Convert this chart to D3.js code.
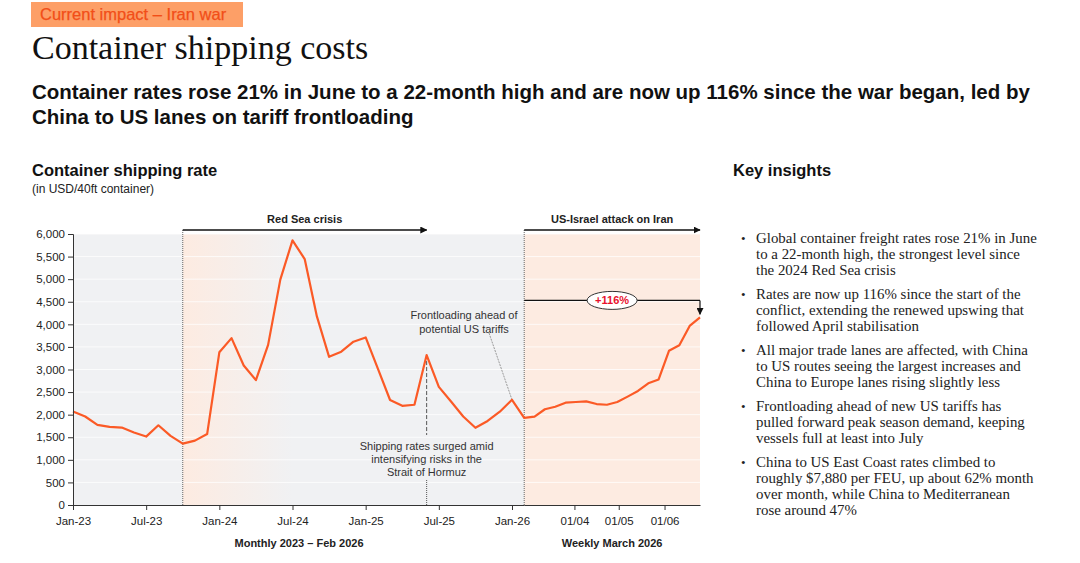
<!DOCTYPE html>
<html>
<head>
<meta charset="utf-8">
<script src="https://cdnjs.cloudflare.com/ajax/libs/d3/7.8.5/d3.min.js"></script>
<style>
  body { margin: 0; background: #fff; }
  svg { display: block; }
  .sans { font-family: "Liberation Sans", Arial, sans-serif; }
  .serif { font-family: "Liberation Serif", Georgia, serif; }
</style>
</head>
<body>
<div id="chart"></div>
<script>
// monthly series, Jan 2023 - Feb 2026
const monthLabels = [
  "Jan-23","Feb-23","Mar-23","Apr-23","May-23","Jun-23","Jul-23","Aug-23","Sep-23","Oct-23","Nov-23","Dec-23",
  "Jan-24","Feb-24","Mar-24","Apr-24","May-24","Jun-24","Jul-24","Aug-24","Sep-24","Oct-24","Nov-24","Dec-24",
  "Jan-25","Feb-25","Mar-25","Apr-25","May-25","Jun-25","Jul-25","Aug-25","Sep-25","Oct-25","Nov-25","Dec-25",
  "Jan-26","Feb-26"
];
const monthValues = [
  2070, 1960, 1775, 1730, 1715, 1605, 1515, 1765, 1530, 1360, 1425, 1570,
  3380, 3695, 3090, 2765, 3545, 4990, 5860, 5445, 4175, 3280, 3395, 3615,
  3710, 3020, 2325, 2195, 2220, 3320, 2615, 2290, 1960, 1710, 1860, 2065,
  2330, 1930
];

// weekly series, March - June 2026 (anchored on the Feb-26 monthly point)
const weekAnchor = "2026-02-26";
const weekDates = [
  "2026-03-05","2026-03-12","2026-03-19","2026-03-26","2026-04-02","2026-04-09",
  "2026-04-16","2026-04-23","2026-04-30","2026-05-07","2026-05-14","2026-05-21",
  "2026-05-28","2026-06-04","2026-06-11","2026-06-18","2026-06-25"
];
const weekValues = [
  1955, 2120, 2175, 2265, 2280, 2295,
  2235, 2220, 2280, 2400, 2525, 2695,
  2780, 3415, 3535, 3965, 4155
];

const yTicks = [0, 500, 1000, 1500, 2000, 2500, 3000, 3500, 4000, 4500, 5000, 5500, 6000];
const monthTicks = ["Jan-23","Jul-23","Jan-24","Jul-24","Jan-25","Jul-25","Jan-26"];
const weekTicks = ["2026-04-01","2026-05-01","2026-06-01"];
const weekTickLabels = ["01/04","01/05","01/06"];

const insights = [
  ["Global container freight rates rose 21% in June", "to a 22-month high, the strongest level since", "the 2024 Red Sea crisis"],
  ["Rates are now up 116% since the start of the", "conflict, extending the renewed upswing that", "followed April stabilisation"],
  ["All major trade lanes are affected, with China", "to US routes seeing the largest increases and", "China to Europe lanes rising slightly less"],
  ["Frontloading ahead of new US tariffs has", "pulled forward peak season demand, keeping", "vessels full at least into July"],
  ["China to US East Coast rates climbed to", "roughly $7,880 per FEU, up about 62% month", "over month, while China to Mediterranean", "rose around 47%"]
];

const parseDate = d3.timeParse("%Y-%m-%d");

const svg = d3.select("#chart").append("svg")
  .attr("width", 1080)
  .attr("height", 563);

const defs = svg.append("defs");
const grad = defs.append("linearGradient").attr("id", "redSeaFade");
grad.append("stop").attr("offset", "0%").attr("stop-color", "#fdebe1");
grad.append("stop").attr("offset", "100%").attr("stop-color", "#f0f1f3");

defs.append("marker")
  .attr("id", "arrow")
  .attr("viewBox", "0 0 10 10")
  .attr("refX", 9).attr("refY", 5)
  .attr("markerWidth", 7).attr("markerHeight", 7)
  .attr("markerUnits", "userSpaceOnUse")
  .attr("orient", "auto")
  .append("path")
  .attr("d", "M0,0 L10,5 L0,10 Z")
  .attr("fill", "#111");

// ---- header ----
svg.append("rect")
  .attr("x", 31).attr("y", 2).attr("width", 212).attr("height", 25)
  .attr("fill", "#fd9f67");
svg.append("text").attr("class", "sans")
  .attr("x", 40).attr("y", 20)
  .attr("font-size", 16.5).attr("fill", "#f24e18")
  .attr("stroke", "#f24e18").attr("stroke-width", 0.25)
  .text("Current impact \u2013 Iran war");

svg.append("text").attr("class", "serif")
  .attr("x", 32).attr("y", 59)
  .attr("font-size", 34).attr("fill", "#111")
  .text("Container shipping costs");

const sub = ["Container rates rose 21% in June to a 22-month high and are now up 116% since the war began, led by",
             "China to US lanes on tariff frontloading"];
svg.selectAll(".subtitle").data(sub).enter().append("text")
  .attr("class", "sans subtitle")
  .attr("x", 32).attr("y", (d, i) => 99 + i * 24.5)
  .attr("font-size", 20.5).attr("font-weight", "bold").attr("fill", "#111")
  .text(d => d);

svg.append("text").attr("class", "sans")
  .attr("x", 32).attr("y", 176)
  .attr("font-size", 16.5).attr("font-weight", "bold").attr("fill", "#111")
  .text("Container shipping rate");
svg.append("text").attr("class", "sans")
  .attr("x", 32).attr("y", 193)
  .attr("font-size", 12).attr("fill", "#222")
  .text("(in USD/40ft container)");

// ---- key insights ----
svg.append("text").attr("class", "sans")
  .attr("x", 733).attr("y", 176)
  .attr("font-size", 16.5).attr("font-weight", "bold").attr("fill", "#111")
  .text("Key insights");

let lineY = 243;
insights.forEach(lines => {
  svg.append("text").attr("class", "serif")
    .attr("x", 741).attr("y", lineY)
    .attr("font-size", 13).attr("fill", "#222")
    .text("\u2022");
  lines.forEach((l, j) => {
    svg.append("text").attr("class", "serif")
      .attr("x", 756).attr("y", lineY + j * 16)
      .attr("font-size", 14.9).attr("fill", "#222")
      .text(l);
  });
  lineY += lines.length * 16 + 8;
});

// ---- chart ----
const plotLeft = 73, plotTop = 234, width = 627, height = 271;
const g = svg.append("g").attr("transform", `translate(${plotLeft},${plotTop})`);

const split = 451.2; // where the monthly part hands over to the weekly part
const xMonth = d3.scalePoint().domain(monthLabels).range([0, split]);
const xWeek = d3.scaleTime()
  .domain([parseDate(weekAnchor), parseDate(weekDates[weekDates.length - 1])])
  .range([split, width]);
const y = d3.scaleLinear().domain([0, 6000]).range([height, 0]);

// backgrounds
g.append("rect").attr("width", width).attr("height", height).attr("fill", "#f0f1f3");
g.append("rect")
  .attr("x", xMonth("Oct-23")).attr("width", xMonth("Jul-24") - xMonth("Oct-23"))
  .attr("height", height).attr("fill", "url(#redSeaFade)");
g.append("rect")
  .attr("x", split).attr("width", width - split)
  .attr("height", height).attr("fill", "#fdebe1");

// gridlines
g.selectAll(".grid").data(yTicks.filter(d => d > 0)).enter().append("line")
  .attr("x1", 0).attr("x2", width)
  .attr("y1", d => y(d)).attr("y2", d => y(d))
  .attr("stroke", "#fff").attr("stroke-opacity", 0.75).attr("stroke-width", 1);

// event markers
const arrowY = -4;
[xMonth("Oct-23"), split].forEach(x => {
  g.append("line")
    .attr("x1", x).attr("x2", x).attr("y1", arrowY).attr("y2", height)
    .attr("stroke", "#666").attr("stroke-width", 1).attr("stroke-dasharray", "1,1");
});
g.append("line")
  .attr("x1", xMonth("Oct-23")).attr("x2", xMonth("Jun-25"))
  .attr("y1", arrowY).attr("y2", arrowY)
  .attr("stroke", "#111").attr("stroke-width", 1.4).attr("marker-end", "url(#arrow)");
g.append("line")
  .attr("x1", split).attr("x2", width)
  .attr("y1", arrowY).attr("y2", arrowY)
  .attr("stroke", "#111").attr("stroke-width", 1.4).attr("marker-end", "url(#arrow)");
g.append("text").attr("class", "sans")
  .attr("x", (xMonth("Oct-23") + xMonth("Jun-25")) / 2).attr("y", -11)
  .attr("text-anchor", "middle").attr("font-size", 11).attr("font-weight", "bold").attr("fill", "#222")
  .text("Red Sea crisis");
g.append("text").attr("class", "sans")
  .attr("x", (split + width) / 2).attr("y", -11)
  .attr("text-anchor", "middle").attr("font-size", 11).attr("font-weight", "bold").attr("fill", "#222")
  .text("US-Israel attack on Iran");

// Hormuz annotation
const jun25 = monthValues[monthLabels.indexOf("Jun-25")];
const hx = xMonth("Jun-25");
g.append("line")
  .attr("x1", hx).attr("x2", hx).attr("y1", y(jun25)).attr("y2", 201)
  .attr("stroke", "#555").attr("stroke-width", 1).attr("stroke-dasharray", "4,2");
g.append("line")
  .attr("x1", hx).attr("x2", hx).attr("y1", 246).attr("y2", height)
  .attr("stroke", "#555").attr("stroke-width", 1).attr("stroke-dasharray", "1,1");
["Shipping rates surged amid", "intensifying risks in the", "Strait of Hormuz"].forEach((t, i) => {
  g.append("text").attr("class", "sans")
    .attr("x", hx).attr("y", 215.5 + i * 13.3)
    .attr("text-anchor", "middle").attr("font-size", 11).attr("fill", "#333")
    .text(t);
});

// Frontloading annotation
const jan26 = monthValues[monthLabels.indexOf("Jan-26")];
g.append("line")
  .attr("x1", 416).attr("y1", 99).attr("x2", xMonth("Jan-26")).attr("y2", y(jan26))
  .attr("stroke", "#999").attr("stroke-width", 1).attr("stroke-dasharray", "2,1");
["Frontloading ahead of", "potential US tariffs"].forEach((t, i) => {
  g.append("text").attr("class", "sans")
    .attr("x", 391).attr("y", 84.5 + i * 14)
    .attr("text-anchor", "middle").attr("font-size", 11).attr("fill", "#333")
    .text(t);
});

// series line
const points = monthLabels.map((m, i) => ({ x: xMonth(m), v: monthValues[i] }))
  .concat(weekDates.map((d, i) => ({ x: xWeek(parseDate(d)), v: weekValues[i] })));

g.append("path")
  .datum(points)
  .attr("fill", "none")
  .attr("stroke", "#fb5a26")
  .attr("stroke-width", 2.2)
  .attr("stroke-linejoin", "round")
  .attr("d", d3.line().x(d => d.x).y(d => y(d.v)));

// +116% annotation
const lastV = weekValues[weekValues.length - 1];
const changeY = y(4530);
g.append("line")
  .attr("x1", split).attr("x2", width).attr("y1", changeY).attr("y2", changeY)
  .attr("stroke", "#111").attr("stroke-width", 1.2);
g.append("line")
  .attr("x1", width).attr("x2", width).attr("y1", changeY).attr("y2", y(lastV) - 3)
  .attr("stroke", "#111").attr("stroke-width", 1.2).attr("marker-end", "url(#arrow)");
g.append("ellipse")
  .attr("cx", (split + width) / 2).attr("cy", changeY)
  .attr("rx", 25).attr("ry", 9)
  .attr("fill", "#fff").attr("stroke", "#333").attr("stroke-width", 1);
g.append("text").attr("class", "sans")
  .attr("x", (split + width) / 2).attr("y", changeY + 4)
  .attr("text-anchor", "middle").attr("font-size", 11).attr("font-weight", "bold").attr("fill", "#e8112d")
  .text("+116%");

// axes
const yAxis = g.append("g")
  .call(d3.axisLeft(y).tickValues(yTicks).tickFormat(d3.format(",")).tickSize(5).tickPadding(3));
const xAxisM = g.append("g").attr("transform", `translate(0,${height})`)
  .call(d3.axisBottom(xMonth).tickValues(monthTicks).tickSize(5).tickSizeOuter(0).tickPadding(7));
const xAxisW = g.append("g").attr("transform", `translate(0,${height})`)
  .call(d3.axisBottom(xWeek).tickValues(weekTicks.map(parseDate))
    .tickFormat((d, i) => weekTickLabels[i]).tickSize(5).tickSizeOuter(0).tickPadding(7));

[yAxis, xAxisM, xAxisW].forEach(a => {
  a.selectAll("path, line").attr("stroke", "#333");
  a.selectAll("text").attr("class", "sans").attr("font-size", 11.5).attr("fill", "#222");
});

g.append("text").attr("class", "sans")
  .attr("x", 226).attr("y", 313)
  .attr("text-anchor", "middle").attr("font-size", 11).attr("font-weight", "bold").attr("fill", "#222")
  .text("Monthly 2023 \u2013 Feb 2026");
g.append("text").attr("class", "sans")
  .attr("x", (split + width) / 2).attr("y", 313)
  .attr("text-anchor", "middle").attr("font-size", 11).attr("font-weight", "bold").attr("fill", "#222")
  .text("Weekly March 2026");
</script>
</body>
</html>
